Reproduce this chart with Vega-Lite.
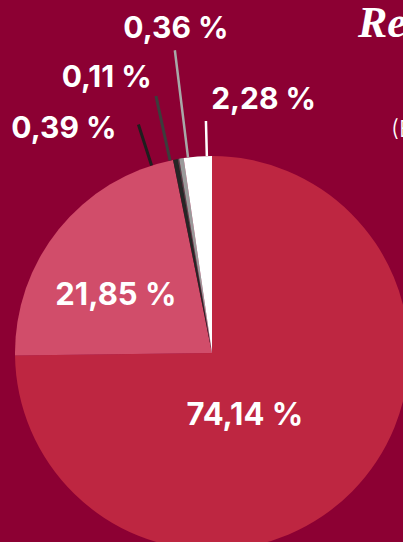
{
  "$schema": "https://vega.github.io/schema/vega-lite/v6.json",
  "width": 424,
  "height": 706,
  "autosize": {"type": "none"},
  "padding": 0,
  "background": "#8C0033",
  "title": {
    "text": "Recettes",
    "anchor": "start",
    "frame": "group",
    "dx": 358,
    "offset": -46,
    "font": "Liberation Serif",
    "fontStyle": "italic",
    "fontWeight": "bold",
    "fontSize": 44,
    "color": "white"
  },
  "data": {
    "values": [
      {"cat": "A", "value": 74.14, "label": "74,14 %", "ord": 1},
      {"cat": "B", "value": 21.85, "label": "21,85 %", "ord": 2},
      {"cat": "D", "value": 0.39, "label": "0,39 %", "ord": 3},
      {"cat": "E", "value": 0.11, "label": "0,11 %", "ord": 4},
      {"cat": "F", "value": 0.36, "label": "0,36 %", "ord": 5},
      {"cat": "G", "value": 2.28, "label": "2,28 %", "ord": 6}
    ]
  },
  "encoding": {
    "theta": {"field": "value", "type": "quantitative", "stack": true},
    "order": {"field": "ord", "type": "quantitative"},
    "detail": {"field": "cat", "type": "nominal"}
  },
  "layer": [
    {
      "mark": {"type": "arc", "radius": 197, "stroke": null},
      "encoding": {
        "color": {
          "field": "cat", "type": "nominal", "legend": null,
          "scale": {"domain": ["A", "B", "D", "E", "F", "G"], "range": ["#BE2641", "#D14D6A", "#262626", "#4a4a4a", "#9a9a9a", "#ffffff"]}
        }
      }
    },
    {
      "mark": {"type": "arc", "radius": 240, "radius2": 197, "padAngle": 0.3, "fillOpacity": 0, "stroke": "#1e1e1e", "strokeWidth": 3},
      "encoding": {
        "theta": {"field": "value", "type": "quantitative", "stack": true, "scale": {"range": [-0.125, 6.1582]}},
        "strokeOpacity": {"condition": {"test": "datum.cat === 'D'", "value": 1}, "value": 0}
      }
    },
    {
      "mark": {"type": "arc", "radius": 263, "radius2": 197, "padAngle": 0.3, "fillOpacity": 0, "stroke": "#3c3c3c", "strokeWidth": 3},
      "encoding": {
        "theta": {"field": "value", "type": "quantitative", "stack": true, "scale": {"range": [-0.0439, 6.2393]}},
        "strokeOpacity": {"condition": {"test": "datum.cat === 'E'", "value": 1}, "value": 0}
      }
    },
    {
      "mark": {"type": "arc", "radius": 305, "radius2": 197, "padAngle": 0.3, "fillOpacity": 0, "stroke": "#a8a8a8", "strokeWidth": 2.5},
      "encoding": {
        "theta": {"field": "value", "type": "quantitative", "stack": true, "scale": {"range": [0.0338, 6.317]}},
        "strokeOpacity": {"condition": {"test": "datum.cat === 'F'", "value": 1}, "value": 0}
      }
    },
    {
      "mark": {"type": "arc", "radius": 232, "radius2": 197, "padAngle": 0.3, "fillOpacity": 0, "stroke": "#ffffff", "strokeWidth": 2.5},
      "encoding": {
        "theta": {"field": "value", "type": "quantitative", "stack": true, "scale": {"range": [0.0461, 6.3293]}},
        "strokeOpacity": {"condition": {"test": "datum.cat === 'G'", "value": 1}, "value": 0}
      }
    },
    {
      "mark": {"type": "text", "radius": 70, "dx": -17, "dy": 14, "font": "Inter", "fontWeight": "bold", "fontSize": 31, "fill": "white", "align": "center", "baseline": "middle"},
      "encoding": {"text": {"condition": {"test": "datum.cat === 'A'", "field": "label"}, "value": ""}}
    },
    {
      "mark": {"type": "text", "radius": 112, "dx": -9, "dy": 13, "font": "Inter", "fontWeight": "bold", "fontSize": 31, "fill": "white", "align": "center", "baseline": "middle"},
      "encoding": {"text": {"condition": {"test": "datum.cat === 'B'", "field": "label"}, "value": ""}}
    },
    {
      "mark": {"type": "text", "radius": 270, "dx": -98, "dy": 41, "font": "Inter", "fontWeight": "bold", "fontSize": 30, "fill": "white", "align": "center", "baseline": "middle"},
      "encoding": {"text": {"condition": {"test": "datum.cat === 'D'", "field": "label"}, "value": ""}}
    },
    {
      "mark": {"type": "text", "radius": 290, "dx": -56, "dy": 11, "font": "Inter", "fontWeight": "bold", "fontSize": 30, "fill": "white", "align": "center", "baseline": "middle"},
      "encoding": {"text": {"condition": {"test": "datum.cat === 'E'", "field": "label"}, "value": ""}}
    },
    {
      "mark": {"type": "text", "radius": 329, "dx": 15, "dy": 1, "font": "Inter", "fontWeight": "bold", "fontSize": 30, "fill": "white", "align": "center", "baseline": "middle"},
      "encoding": {"text": {"condition": {"test": "datum.cat === 'F'", "field": "label"}, "value": ""}}
    },
    {
      "mark": {"type": "text", "radius": 255, "dx": 70, "dy": 1, "font": "Inter", "fontWeight": "bold", "fontSize": 30, "fill": "white", "align": "center", "baseline": "middle"},
      "encoding": {"text": {"condition": {"test": "datum.cat === 'G'", "field": "label"}, "value": ""}}
    },
    {
      "mark": {"type": "text", "radius": 0, "dx": 179, "dy": -223, "font": "Inter", "fontWeight": 300, "fontSize": 23, "fill": "white", "align": "left", "baseline": "middle"},
      "encoding": {"text": {"condition": {"test": "datum.cat === 'A'", "value": "(En pourcentage)"}, "value": ""}}
    }
  ],
  "resolve": {"scale": {"theta": "independent"}},
  "config": {"view": {"stroke": null}}
}
